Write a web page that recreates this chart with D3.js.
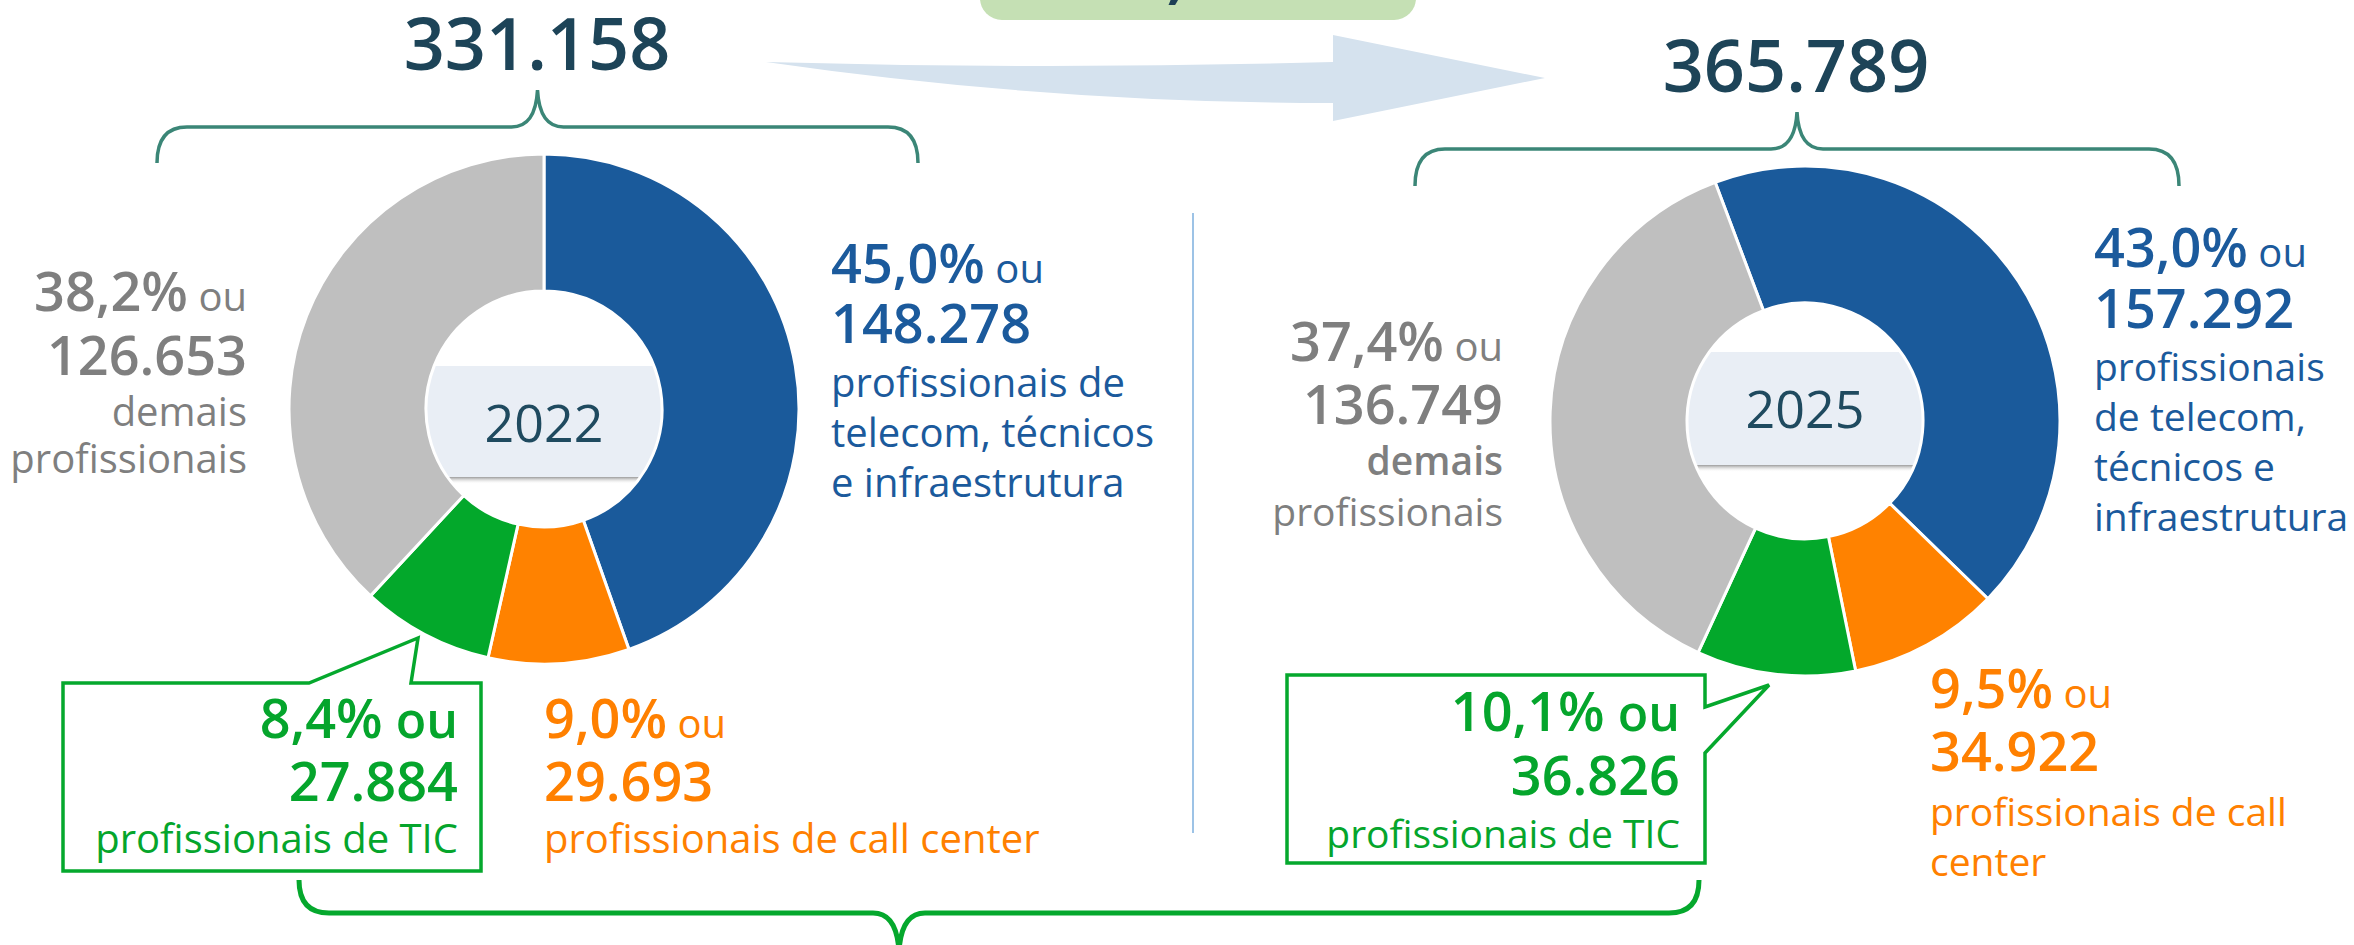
<!DOCTYPE html>
<html>
<head>
<meta charset="utf-8">
<script src="https://cdn.jsdelivr.net/npm/d3@7"></script>
<style>
  body { margin: 0; background: #fff; }
  svg { display: block; font-family: "Open Sans", "Noto Sans", sans-serif; }
</style>
</head>
<body>
<svg id="chart"></svg>
<script>
// data
const years = ["2022", "2025"];
const totals = [331158, 365789];
const categories = ["telecom", "callcenter", "tic", "demais"];
const values2022 = [148278, 29693, 27884, 126653];
const values2025 = [157292, 34922, 36826, 136749];
const shares2022 = ["45,0%", "9,0%", "8,4%", "38,2%"];
const shares2025 = ["43,0%", "9,5%", "10,1%", "37,4%"];
const notes2022 = [
  ["profissionais de", "telecom, técnicos", "e infraestrutura"],
  ["profissionais de call center"],
  ["profissionais de TIC"],
  ["demais", "profissionais"]
];
const notes2025 = [
  ["profissionais", "de telecom,", "técnicos e", "infraestrutura"],
  ["profissionais de call", "center"],
  ["profissionais de TIC"],
  ["demais", "profissionais"]
];
const growthLabel = "+10,5%";

const width = 2354, height = 945;

const color = d3.scaleOrdinal()
  .domain(categories)
  .range(["#1a5a9b", "#ff8200", "#03a82b", "#bfbfbf"]);

const textColor = d3.scaleOrdinal()
  .domain(categories)
  .range(["#1b5a9c", "#ff8000", "#05a52c", "#7f7f7f"]);

const br = d3.formatLocale({ decimal: ",", thousands: ".", grouping: [3], currency: ["R$", ""] });
const fmt = br.format(",d");

const svg = d3.select("#chart")
  .attr("width", width)
  .attr("height", height)
  .attr("viewBox", [0, 0, width, height]);

const defs = svg.append("defs");
const shadow = defs.append("linearGradient")
  .attr("id", "boxShadow")
  .attr("x1", 0).attr("x2", 0).attr("y1", 0).attr("y2", 1);
shadow.append("stop").attr("offset", "0%").attr("stop-color", "#7a7a7a").attr("stop-opacity", 0.75);
shadow.append("stop").attr("offset", "100%").attr("stop-color", "#ffffff").attr("stop-opacity", 0);

// top banner (cut at the top edge) and the growth arrow
svg.append("rect")
  .attr("x", 980).attr("y", -30)
  .attr("width", 436).attr("height", 50)
  .attr("rx", 22)
  .attr("fill", "#c5e0b4");

svg.append("text")
  .attr("x", 1071).attr("y", -3)
  .attr("fill", "#1d3f56")
  .attr("font-size", 60)
  .attr("font-weight", 700)
  .attr("font-style", "italic")
  .text(growthLabel);

svg.append("path")
  .attr("d", "M766,62 Q1050,70 1333,62 L1333,35 L1545,78 L1333,121 L1333,103 Q1050,103 766,62 Z")
  .attr("fill", "#d5e2ee");

// divider
svg.append("line")
  .attr("x1", 1193).attr("x2", 1193)
  .attr("y1", 213).attr("y2", 833)
  .attr("stroke", "#9dc3e6")
  .attr("stroke-width", 2);

function brace(x0, x1, yEnd, yLine, yTip, xm = (x0 + x1) / 2) {
  const r = 30, c = 26;
  return `M${x0},${yEnd} Q${x0},${yLine} ${x0 + r},${yLine} L${xm - c},${yLine} ` +
    `Q${xm - 2},${yLine} ${xm},${yTip} Q${xm + 2},${yLine} ${xm + c},${yLine} ` +
    `L${x1 - r},${yLine} Q${x1},${yLine} ${x1},${yEnd}`;
}

const donuts = [
  { cx: 544, cy: 409, start: 0, box: [366, 477], yearY: 442, values: values2022, shares: shares2022, notes: notes2022,
    total: { x: 537, y: 70 }, brace: [157, 918, 163, 127, 90], noteSize: 40,
    labels: [
      { x: 831, anchor: "start", ys: [283, 343, 397, 447, 497] },
      { x: 544, anchor: "start", ys: [738, 801, 853] },
      { x: 458, anchor: "end", ys: [738, 801, 853] },
      { x: 247, anchor: "end", ys: [311, 375, 426, 473] }
    ],
    callout: "M63,683 L309,683 L418,638 L411,683 L481,683 L481,871 L63,871 Z" },
  { cx: 1805, cy: 421, start: -0.36, box: [352, 465], yearY: 428, values: values2025, shares: shares2025, notes: notes2025,
    total: { x: 1796, y: 92 }, brace: [1415, 2179, 186, 149, 112], noteSize: 39,
    labels: [
      { x: 2094, anchor: "start", ys: [267, 328, 381, 431, 481, 531] },
      { x: 1930, anchor: "start", ys: [708, 771, 826, 876] },
      { x: 1680, anchor: "end", ys: [731, 795, 848] },
      { x: 1503, anchor: "end", ys: [361, 424, 475, 526] }
    ],
    callout: "M1287,675 L1705,675 L1705,707 L1769,685 L1705,753 L1705,863 L1287,863 Z" }
];

const innerR = 118, outerR = 255;
const arc = d3.arc().innerRadius(innerR).outerRadius(outerR);

donuts.forEach((d, k) => {
  const g = svg.append("g");

  // total and brace
  g.append("text")
    .attr("x", d.total.x).attr("y", d.total.y)
    .attr("text-anchor", "middle")
    .attr("fill", "#1d4458")
    .attr("font-size", 72)
    .attr("font-weight", 600)
    .text(fmt(totals[k]));

  g.append("path")
    .attr("d", brace(...d.brace))
    .attr("fill", "none")
    .attr("stroke", "#3b8677")
    .attr("stroke-width", 3.5);

  // year box inside the hole
  defs.append("clipPath").attr("id", `hole${k}`)
    .append("circle").attr("cx", d.cx).attr("cy", d.cy).attr("r", innerR);

  const hole = g.append("g").attr("clip-path", `url(#hole${k})`);
  hole.append("rect")
    .attr("x", d.cx - 130).attr("y", d.box[0])
    .attr("width", 260).attr("height", d.box[1] - d.box[0])
    .attr("fill", "#e9eef5");
  hole.append("rect")
    .attr("x", d.cx - 130).attr("y", d.box[1])
    .attr("width", 260).attr("height", 7)
    .attr("fill", "url(#boxShadow)");

  g.append("text")
    .attr("x", d.cx).attr("y", d.yearY)
    .attr("text-anchor", "middle")
    .attr("fill", "#1f4a5f")
    .attr("font-size", 52)
    .text(years[k]);

  // slices
  const pie = d3.pie().sort(null)
    .startAngle(d.start)
    .endAngle(d.start + 2 * Math.PI);

  g.append("g")
    .attr("transform", `translate(${d.cx},${d.cy})`)
    .selectAll("path")
    .data(pie(d.values))
    .join("path")
    .attr("d", arc)
    .attr("fill", (p, i) => color(categories[i]))
    .attr("stroke", "#fff")
    .attr("stroke-width", 3);

  // TIC callout
  g.append("path")
    .attr("d", d.callout)
    .attr("fill", "#fff")
    .attr("stroke", "#05a82d")
    .attr("stroke-width", 3.5)
    .attr("stroke-linejoin", "miter");

  // labels
  categories.forEach((c, i) => {
    const L = d.labels[i];
    const fill = textColor(c);
    const lab = g.append("g").attr("fill", fill).attr("text-anchor", L.anchor);

    const first = lab.append("text").attr("x", L.x).attr("y", L.ys[0]);
    first.append("tspan")
      .attr("font-size", 54).attr("font-weight", 600)
      .text(d.shares[i]);
    first.append("tspan")
      .attr("font-size", c === "tic" ? 50 : 40)
      .attr("font-weight", c === "tic" ? 600 : 400)
      .text(" ou");

    lab.append("text")
      .attr("x", L.x).attr("y", L.ys[1])
      .attr("font-size", 54).attr("font-weight", 600)
      .text(fmt(d.values[i]));

    d.notes[i].forEach((line, j) => {
      lab.append("text")
        .attr("x", L.x).attr("y", L.ys[j + 2])
        .attr("font-size", d.noteSize)
        .attr("font-weight", (k === 1 && c === "demais" && j === 0) ? 600 : 400)
        .text(line);
    });
  });
});

// bottom brace linking the TIC figures
svg.append("path")
  .attr("d", brace(299, 1699, 880, 913, 952, 899))
  .attr("fill", "none")
  .attr("stroke", "#05a82d")
  .attr("stroke-width", 5);
</script>
</body>
</html>
